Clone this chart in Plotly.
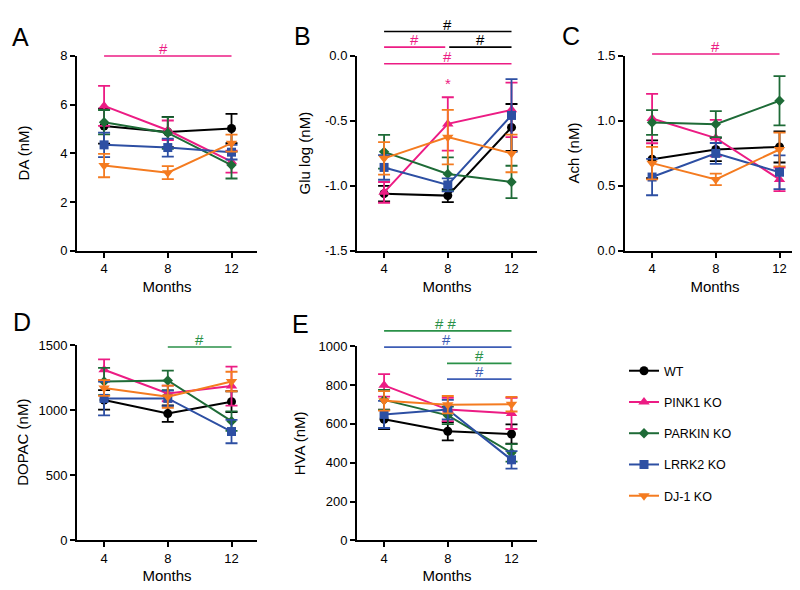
import plotly.graph_objects as go

# ---------------- data ----------------
months = [4, 8, 12]
groups = ["WT", "PINK1 KO", "PARKIN KO", "LRRK2 KO", "DJ-1 KO"]
colors = ["#000000", "#EC1C84", "#1E6B37", "#2D4FA3", "#F47B20"]
symbols = ["circle", "triangle-up", "diamond", "square", "triangle-down"]
sizes = [9, 10, 8, 9, 10]

# each list-of-lists is in group order: WT, PINK1, PARKIN, LRRK2, DJ-1
da_mean = [[5.12, 4.88, 5.02], [5.95, 4.95, 3.66], [5.28, 4.84, 3.52], [4.35, 4.24, 4.05], [3.50, 3.21, 4.42]]
da_sem = [[0.72, 0.62, 0.60], [0.82, 0.40, 0.45], [0.50, 0.65, 0.55], [0.50, 0.37, 0.30], [0.48, 0.27, 0.35]]

glu_mean = [[-1.06, -1.075, -0.55], [-1.05, -0.523, -0.415], [-0.738, -0.908, -0.97], [-0.858, -0.993, -0.458], [-0.788, -0.625, -0.75]]
glu_sem = [[0.06, 0.05, 0.18], [0.08, 0.205, 0.21], [0.13, 0.128, 0.125], [0.095, 0.05, 0.28], [0.125, 0.21, 0.145]]

ach_mean = [[0.705, 0.78, 0.80], [1.018, 0.868, 0.55], [0.988, 0.975, 1.155], [0.568, 0.75, 0.605], [0.675, 0.55, 0.78]]
ach_sem = [[0.145, 0.09, 0.12], [0.19, 0.14, 0.09], [0.095, 0.10, 0.19], [0.14, 0.08, 0.13], [0.125, 0.045, 0.13]]

dopac_mean = [[1080, 975, 1067], [1312, 1130, 1187], [1222, 1230, 917], [1092, 1092, 837], [1172, 1105, 1222]]
dopac_sem = [[75, 63, 80], [80, 60, 150], [105, 75, 75], [130, 60, 90], [60, 85, 75]]

hva_mean = [[624, 562, 548], [799, 674, 654], [724, 644, 451], [649, 674, 415], [719, 699, 702]]
hva_sem = [[50, 47, 50], [58, 60, 80], [52, 45, 45], [70, 50, 45], [50, 45, 38]]

y_titles = ["DA (nM)", "Glu log (nM)", "Ach (nM)", "DOPAC (nM)", "HVA (nM)"]
panel_letters = ["A", "B", "C", "D", "E"]
y_ranges = [[0, 8], [-1.5, 0], [0, 1.5], [0, 1500], [0, 1000]]
y_tickvals = [[0, 2, 4, 6, 8], [-1.5, -1.0, -0.5, 0.0], [0, 0.5, 1.0, 1.5],
              [0, 500, 1000, 1500], [0, 200, 400, 600, 800, 1000]]
y_ticktext = [["0", "2", "4", "6", "8"], ["-1.5", "-1.0", "-0.5", "0.0"], ["0.0", "0.5", "1.0", "1.5"],
              ["0", "500", "1000", "1500"], ["0", "200", "400", "600", "800", "1000"]]

# significance bars: (panel index, x0, x1, y, label x, label, color)
SIG_PINK = "#EC1C84"
SIG_BLACK = "#000000"
SIG_GREEN = "#2A9148"
SIG_BLUE = "#3D5DB5"
sig_bars = [
    (0, 4, 12, 8.0, 7.7, "#", SIG_PINK),
    (1, 4, 12, 0.1875, 8.0, "#", SIG_BLACK),
    (1, 4, 7.84, 0.0675, 5.9, "#", SIG_PINK),
    (1, 8.09, 12, 0.0675, 10.05, "#", SIG_BLACK),
    (1, 4, 12, -0.06, 8.0, "#", SIG_PINK),
    (2, 4, 12, 1.515, 8.0, "#", SIG_PINK),
    (3, 8, 12, 1487, 10.0, "#", SIG_GREEN),
    (4, 4, 12, 1080, 7.9, "# #", SIG_GREEN),
    (4, 4, 12, 996, 7.9, "#", SIG_BLUE),
    (4, 7.95, 12, 912, 10.0, "#", SIG_GREEN),
    (4, 7.95, 12, 831, 10.0, "#", SIG_BLUE),
]
star_marks = [(1, 8, -0.215, "*", SIG_PINK)]

# ---------------- layout geometry (pixels) ----------------
W, H = 800, 590
X_RANGE = [2.3, 13.6]
panel_px = [  # left, right, top, bottom
    (69, 249, 42, 242),
    (349, 529, 42, 242),
    (617, 797, 42, 242),
    (69, 249, 339, 539),
    (349, 529, 340, 539),
]
letter_px = [(12, 23), (294, 22), (563, 22), (14, 315), (292, 317)]
ytitle_x = [15, 296, 565, 15, 291]

FONT = "Liberation Sans, Arial, sans-serif"
all_data = [(da_mean, da_sem), (glu_mean, glu_sem), (ach_mean, ach_sem),
            (dopac_mean, dopac_sem), (hva_mean, hva_sem)]

fig = go.Figure()
layout = dict(
    width=W, height=H, margin=dict(l=0, r=0, t=0, b=0),
    paper_bgcolor="white", plot_bgcolor="white",
    font=dict(family=FONT, size=13, color="black"),
    showlegend=True,
)
shapes = []
annotations = []

for p, (means, sems) in enumerate(all_data):
    sfx = "" if p == 0 else str(p + 1)
    xa, ya = "x" + sfx, "y" + sfx
    for g in range(len(groups)):
        fig.add_trace(go.Scatter(
            x=months, y=means[g], name=groups[g], xaxis=xa, yaxis=ya,
            mode="lines+markers", legendgroup=groups[g], showlegend=(p == 0),
            line=dict(color=colors[g], width=2),
            marker=dict(symbol=symbols[g], size=sizes[g], color=colors[g]),
            error_y=dict(type="data", array=sems[g], visible=True,
                         color=colors[g], thickness=1.8, width=6),
            cliponaxis=False,
        ))
    l, r, t, b = panel_px[p]
    axis_common = dict(showline=True, linecolor="black", linewidth=2, ticks="outside",
                       ticklen=5, tickwidth=2, tickcolor="black", showgrid=False,
                       zeroline=False, tickfont=dict(family=FONT, size=13, color="black"))
    layout["xaxis" + sfx] = dict(
        axis_common, domain=[l / W, r / W], range=X_RANGE, anchor=ya,
        tickvals=months, ticktext=[str(m) for m in months],
        title=dict(text="Months", font=dict(family=FONT, size=15), standoff=6),
    )
    layout["yaxis" + sfx] = dict(
        axis_common, domain=[(H - b) / H, (H - t) / H], range=y_ranges[p], anchor=xa,
        tickvals=y_tickvals[p], ticktext=y_ticktext[p],
    )
    # y title
    annotations.append(dict(
        text=y_titles[p], xref="paper", yref="paper", x=ytitle_x[p] / W,
        y=(H - (t + b) / 2) / H, textangle=-90, showarrow=False,
        font=dict(family=FONT, size=15), xanchor="center", yanchor="middle"))
    # panel letter
    lx, ly = letter_px[p]
    annotations.append(dict(
        text=panel_letters[p], xref="paper", yref="paper", x=lx / W, y=(H - ly) / H,
        showarrow=False, font=dict(family=FONT, size=25), xanchor="center", yanchor="middle"))

for (p, x0, x1, yv, xt, label, col) in sig_bars:
    sfx = "" if p == 0 else str(p + 1)
    lo, hi = y_ranges[p]
    yd = (yv - lo) / (hi - lo)
    shapes.append(dict(type="line", xref="x" + sfx, yref="y" + sfx + " domain",
                       x0=x0, x1=x1, y0=yd, y1=yd, line=dict(color=col, width=1.6)))
    annotations.append(dict(text=label, xref="x" + sfx, yref="y" + sfx + " domain", x=xt, y=yd,
                            showarrow=False, xanchor="center", yanchor="bottom", yshift=-3,
                            font=dict(family=FONT, size=15, color=col)))
for (p, xv, yv, label, col) in star_marks:
    sfx = "" if p == 0 else str(p + 1)
    lo, hi = y_ranges[p]
    annotations.append(dict(text=label, xref="x" + sfx, yref="y" + sfx + " domain", x=xv,
                            y=(yv - lo) / (hi - lo),
                            showarrow=False, xanchor="center", yanchor="middle",
                            font=dict(family=FONT, size=15, color=col)))

layout["shapes"] = shapes
layout["annotations"] = annotations
layout["legend"] = dict(x=616 / W, y=(H - 350) / H, xanchor="left", yanchor="top",
                        tracegroupgap=12, font=dict(family=FONT, size=12.5),
                        bgcolor="rgba(0,0,0,0)", itemwidth=30)
fig.update_layout(**layout)
fig.write_html("out.html")
